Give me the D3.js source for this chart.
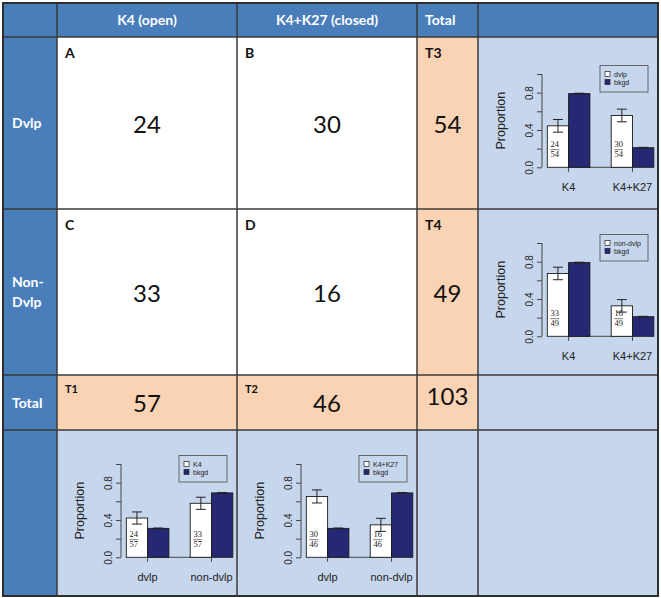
<!DOCTYPE html>
<html>
<head>
<meta charset="utf-8">
<script src="https://cdn.jsdelivr.net/npm/d3@7"></script>
<style>
  html, body { margin: 0; padding: 0; background: #fff; }
  svg { display: block; }
</style>
</head>
<body>
<div id="chart"></div>
<script>
// contingency table values
var colHeaders = ['K4 (open)', 'K4+K27 (closed)', 'Total'];
var rowHeaders = [['Dvlp'], ['Non-', 'Dvlp'], ['Total']];
var cellLetters = [['A', 'B', 'T3'], ['C', 'D', 'T4'], ['T1', 'T2', '']];
var dvlpCounts = [24, 30];
var nonDvlpCounts = [33, 16];
var rowTotals = [54, 49];
var colTotals = [57, 46];
var grandTotal = 103;

// mini bar charts
var markGroups = ['K4', 'K4+K27'];
var classGroups = ['dvlp', 'non-dvlp'];
var bkgdByMark = [0.79, 0.21];
var bkgdByClass = [0.31, 0.69];
var seDvlp = [0.068, 0.068];
var seNonDvlp = [0.067, 0.067];
var seK4 = [0.065, 0.065];
var seK4K27 = [0.070, 0.070];
var seBkgd = [0.004, 0.004];
var yTicks = [0, 0.2, 0.4, 0.6, 0.8, 1.0];
var yTickLabels = ['0.0', '', '0.4', '', '0.8', ''];

var W = 661, H = 598;
var colEdges = [3, 57, 237, 417, 478, 658];
var rowEdges = [3, 37, 209, 375, 430, 596];

var BLUE = '#4a7ebb',
    LIGHT = '#c6d6ec',
    PEACH = '#f9d3b3',
    NAVY = '#262873',
    LINE = '#3a3a3a';

var sans = 'Lato, "Open Sans", sans-serif';
var rsans = '"Liberation Sans", Arial, sans-serif';

var svg = d3.select('#chart').append('svg')
  .attr('width', W)
  .attr('height', H);

function cellFill(r, c) {
  if (r === 0 || c === 0) return BLUE;
  if (c === 4 || r === 4) return LIGHT;
  if (c === 3 || r === 3) return PEACH;
  return '#ffffff';
}

// cell backgrounds
var cells = [];
d3.range(5).forEach(function(r) {
  d3.range(5).forEach(function(c) {
    cells.push({r: r, c: c});
  });
});

svg.append('g').selectAll('rect')
  .data(cells)
  .enter().append('rect')
    .attr('x', function(d) { return colEdges[d.c]; })
    .attr('y', function(d) { return rowEdges[d.r]; })
    .attr('width', function(d) { return colEdges[d.c + 1] - colEdges[d.c]; })
    .attr('height', function(d) { return rowEdges[d.r + 1] - rowEdges[d.r]; })
    .attr('fill', function(d) { return cellFill(d.r, d.c); });

// grid lines
var grid = svg.append('g')
  .attr('stroke', LINE)
  .attr('stroke-width', 1.5);

grid.selectAll('line.v')
  .data(colEdges)
  .enter().append('line')
    .attr('class', 'v')
    .attr('x1', function(d) { return d; })
    .attr('x2', function(d) { return d; })
    .attr('y1', rowEdges[0])
    .attr('y2', rowEdges[5]);

grid.selectAll('line.h')
  .data(rowEdges)
  .enter().append('line')
    .attr('class', 'h')
    .attr('y1', function(d) { return d; })
    .attr('y2', function(d) { return d; })
    .attr('x1', colEdges[0])
    .attr('x2', colEdges[5]);

svg.append('rect')
  .attr('x', colEdges[0])
  .attr('y', rowEdges[0])
  .attr('width', colEdges[5] - colEdges[0])
  .attr('height', rowEdges[5] - rowEdges[0])
  .attr('fill', 'none')
  .attr('stroke', '#2e2e2e')
  .attr('stroke-width', 2);

function mid(edges, i) {
  return (edges[i] + edges[i + 1]) / 2;
}

// column headers
svg.append('g').selectAll('text')
  .data(colHeaders)
  .enter().append('text')
    .attr('x', function(d, i) { return i === 2 ? colEdges[3] + 8 : mid(colEdges, i + 1); })
    .attr('y', mid(rowEdges, 0) + 5)
    .attr('text-anchor', function(d, i) { return i === 2 ? 'start' : 'middle'; })
    .attr('font-family', sans)
    .attr('font-weight', 'bold')
    .attr('font-size', 14)
    .attr('fill', '#fff')
    .text(function(d) { return d; });

// row headers
rowHeaders.forEach(function(lines, i) {
  var cy = mid(rowEdges, i + 1);
  var t = svg.append('text')
    .attr('font-family', sans)
    .attr('font-weight', 'bold')
    .attr('font-size', 14)
    .attr('fill', '#fff');
  lines.forEach(function(line, j) {
    t.append('tspan')
      .attr('x', 12)
      .attr('y', cy + 5 + (j - (lines.length - 1) / 2) * 20)
      .text(line);
  });
});

// cell letters
cellLetters.forEach(function(row, r) {
  row.forEach(function(letter, c) {
    if (!letter) return;
    var small = r === 2;
    svg.append('text')
      .attr('x', colEdges[c + 1] + 8)
      .attr('y', rowEdges[r + 1] + (small ? 18 : 21))
      .attr('font-family', sans)
      .attr('font-weight', 'bold')
      .attr('font-size', small ? 11 : 14)
      .attr('fill', '#111')
      .text(letter);
  });
});

// count values
var countCells = [
  {r: 1, c: 1, v: dvlpCounts[0]}, {r: 1, c: 2, v: dvlpCounts[1]}, {r: 1, c: 3, v: rowTotals[0]},
  {r: 2, c: 1, v: nonDvlpCounts[0]}, {r: 2, c: 2, v: nonDvlpCounts[1]}, {r: 2, c: 3, v: rowTotals[1]},
  {r: 3, c: 1, v: colTotals[0]}, {r: 3, c: 2, v: colTotals[1]}, {r: 3, c: 3, v: grandTotal}
];

svg.append('g').selectAll('text')
  .data(countCells)
  .enter().append('text')
    .attr('x', function(d) { return mid(colEdges, d.c); })
    .attr('y', function(d) {
      if (d.r === 3) return d.c === 3 ? 405 : 412;
      return mid(rowEdges, d.r) + 10;
    })
    .attr('text-anchor', 'middle')
    .attr('font-family', sans)
    .attr('font-size', 24)
    .attr('fill', '#111')
    .text(function(d) { return d.v; });

// mini barplots
var charts = [
  {r: 1, c: 4, groups: markGroups, num: dvlpCounts, den: [rowTotals[0], rowTotals[0]],
    bg: bkgdByMark, se: seDvlp, legend: 'dvlp'},
  {r: 2, c: 4, groups: markGroups, num: nonDvlpCounts, den: [rowTotals[1], rowTotals[1]],
    bg: bkgdByMark, se: seNonDvlp, legend: 'non-dvlp'},
  {r: 4, c: 1, groups: classGroups, num: [dvlpCounts[0], nonDvlpCounts[0]], den: [colTotals[0], colTotals[0]],
    bg: bkgdByClass, se: seK4, legend: 'K4'},
  {r: 4, c: 2, groups: classGroups, num: [dvlpCounts[1], nonDvlpCounts[1]], den: [colTotals[1], colTotals[1]],
    bg: bkgdByClass, se: seK4K27, legend: 'K4+K27'}
];

charts.forEach(function(spec) {
  miniChart(svg.append('g'), colEdges[spec.c], mid(rowEdges, spec.r), spec);
});

function miniChart(g, x0, cy, spec) {
  var y = d3.scaleLinear().domain([0, 1]).range([cy + 44.3, cy - 49]);
  var axisX = x0 + 64;

  var x = d3.scaleBand()
    .domain(spec.groups)
    .range([x0 + 69.3, x0 + 69.3 + 5 * 21.3])
    .paddingInner(1 / 3)
    .paddingOuter(0);
  var xs = d3.scaleBand()
    .domain(['fg', 'bg'])
    .range([0, x.bandwidth()]);

  var rows = spec.groups.map(function(grp, i) {
    return [
      {grp: grp, key: 'fg', v: spec.num[i] / spec.den[i], se: spec.se[i], num: spec.num[i], den: spec.den[i]},
      {grp: grp, key: 'bg', v: spec.bg[i], se: seBkgd[i]}
    ];
  });
  var bars = d3.merge(rows);

  // x axis line between group centres + ticks
  var centres = spec.groups.map(function(grp) { return x(grp) + x.bandwidth() / 2; });
  g.append('line')
    .attr('x1', centres[0]).attr('x2', centres[1])
    .attr('y1', y(0)).attr('y2', y(0))
    .attr('stroke', '#444').attr('stroke-width', 1);

  g.selectAll('line.xtick')
    .data(spec.groups)
    .enter().append('line')
      .attr('class', 'xtick')
      .attr('x1', function(d) { return x(d) + x.bandwidth() / 2; })
      .attr('x2', function(d) { return x(d) + x.bandwidth() / 2; })
      .attr('y1', y(0))
      .attr('y2', y(0) + 4.5)
      .attr('stroke', '#444');

  g.selectAll('text.xlab')
    .data(spec.groups)
    .enter().append('text')
      .attr('class', 'xlab')
      .attr('x', function(d) { return x(d) + x.bandwidth() / 2; })
      .attr('y', y(0) + 24)
      .attr('text-anchor', 'middle')
      .attr('font-family', rsans)
      .attr('font-size', 11)
      .attr('fill', '#222')
      .text(function(d) { return d; });

  // bars
  g.selectAll('rect.bar')
    .data(bars)
    .enter().append('rect')
      .attr('class', 'bar')
      .attr('x', function(d) { return x(d.grp) + xs(d.key); })
      .attr('y', function(d) { return y(d.v); })
      .attr('width', xs.bandwidth())
      .attr('height', function(d) { return y(0) - y(d.v); })
      .attr('fill', function(d) { return d.key === 'fg' ? '#fff' : NAVY; })
      .attr('stroke', '#1a1a1a')
      .attr('stroke-width', 0.9);

  // error bars
  var eb = g.selectAll('g.err')
    .data(bars)
    .enter().append('g')
      .attr('class', 'err')
      .attr('stroke', '#222')
      .attr('stroke-width', 1);
  eb.append('line')
    .attr('x1', function(d) { return x(d.grp) + xs(d.key) + xs.bandwidth() / 2; })
    .attr('x2', function(d) { return x(d.grp) + xs(d.key) + xs.bandwidth() / 2; })
    .attr('y1', function(d) { return y(d.v + d.se); })
    .attr('y2', function(d) { return y(d.v - d.se); });
  [1, -1].forEach(function(sign) {
    eb.append('line')
      .attr('x1', function(d) { return x(d.grp) + xs(d.key) + xs.bandwidth() / 2 - 5; })
      .attr('x2', function(d) { return x(d.grp) + xs(d.key) + xs.bandwidth() / 2 + 5; })
      .attr('y1', function(d) { return y(d.v + sign * d.se); })
      .attr('y2', function(d) { return y(d.v + sign * d.se); });
  });

  // fractions inside the white bars
  var fr = g.selectAll('g.frac')
    .data(bars.filter(function(d) { return d.key === 'fg'; }))
    .enter().append('g')
      .attr('class', 'frac')
      .attr('transform', function(d) { return 'translate(' + (x(d.grp) + 7.5) + ',' + y(0) + ')'; });
  fr.append('text')
    .attr('y', -20)
    .text(function(d) { return d.num; });
  fr.append('text')
    .attr('y', -10)
    .text(function(d) { return d.den; });
  fr.selectAll('text')
    .attr('text-anchor', 'middle')
    .attr('font-family', '"Liberation Serif", "Times New Roman", serif')
    .attr('font-size', 8.5)
    .attr('fill', '#222');
  fr.append('line')
    .attr('x1', -4.5).attr('x2', 4.5)
    .attr('y1', -17.6).attr('y2', -17.6)
    .attr('stroke', '#444')
    .attr('stroke-width', 0.7);

  // y axis
  var yAxis = d3.axisLeft(y)
    .tickValues(yTicks)
    .tickSize(5)
    .tickFormat(function(d, i) { return yTickLabels[i]; });
  var ya = g.append('g')
    .attr('transform', 'translate(' + axisX + ',0)')
    .call(yAxis);
  ya.select('.domain')
    .attr('d', 'M0,' + y(0) + 'V' + y(1))
    .attr('stroke', '#444');
  ya.selectAll('.tick line').attr('stroke', '#444');
  ya.selectAll('.tick text')
    .attr('x', 0)
    .attr('dy', null)
    .attr('y', 0)
    .attr('transform', 'translate(-9,0) rotate(-90)')
    .attr('text-anchor', 'middle')
    .attr('font-family', rsans)
    .attr('font-size', 10)
    .attr('fill', '#222');

  g.append('text')
    .attr('transform', 'translate(' + (axisX - 37) + ',' + y(0.5) + ') rotate(-90)')
    .attr('text-anchor', 'middle')
    .attr('font-family', rsans)
    .attr('font-size', 12.5)
    .attr('fill', '#222')
    .text('Proportion');

  // legend
  var lg = g.append('g')
    .attr('transform', 'translate(' + (x0 + 122) + ',' + (cy - 57.5) + ')');
  lg.append('rect')
    .attr('width', 48)
    .attr('height', 26.5)
    .attr('fill', 'none')
    .attr('stroke', '#666')
    .attr('stroke-width', 1);
  var items = [{label: spec.legend, fill: '#fff'}, {label: 'bkgd', fill: NAVY}];
  var li = lg.selectAll('g.item')
    .data(items)
    .enter().append('g')
      .attr('class', 'item')
      .attr('transform', function(d, i) { return 'translate(5,' + (8.5 + i * 8) + ')'; });
  li.append('rect')
    .attr('x', 0).attr('y', -2.5)
    .attr('width', 5).attr('height', 5)
    .attr('fill', function(d) { return d.fill; })
    .attr('stroke', '#222')
    .attr('stroke-width', 0.7);
  li.append('text')
    .attr('x', 9)
    .attr('y', 2.5)
    .attr('font-family', rsans)
    .attr('font-size', 7)
    .attr('fill', '#222')
    .text(function(d) { return d.label; });
}
</script>
</body>
</html>
